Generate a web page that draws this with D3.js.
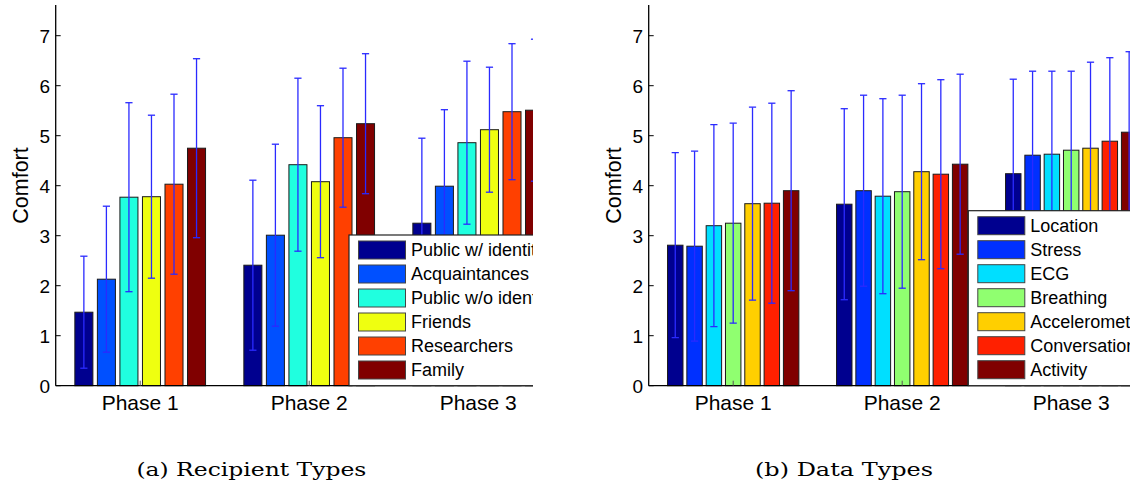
<!DOCTYPE html>
<html><head><meta charset="utf-8">
<script src="https://cdn.jsdelivr.net/npm/d3@7"></script>
<style>
html,body{margin:0;padding:0;background:#fff;}
svg{display:block;}
</style>
</head><body>
<svg id="chart" width="1130" height="486"></svg>
<script>
// ---------------- DATA ----------------
const phases = ["Phase 1", "Phase 2", "Phase 3"];
const yTicks = [0, 1, 2, 3, 4, 5, 6, 7];

const recipientTypes = ["Public w/ identity", "Acquaintances", "Public w/o identity", "Friends", "Researchers", "Family"];
const recipientColors = ["#00008f", "#0050ff", "#20ffdf", "#efff10", "#ff4000", "#800000"];
// mean comfort per recipient type, one array per phase
const recipientMeans = [
  [1.47, 2.13, 3.77, 3.78, 4.03, 4.75],
  [2.41, 3.01, 4.42, 4.08, 4.96, 5.24],
  [3.25, 3.99, 4.86, 5.12, 5.48, 5.51]
];
const recipientErr = [
  [1.12, 1.46, 1.89, 1.63, 1.80, 1.79],
  [1.70, 1.82, 1.73, 1.52, 1.39, 1.40],
  [1.70, 1.53, 1.63, 1.25, 1.36, 1.42]
];

const dataTypes = ["Location", "Stress", "ECG", "Breathing", "Accelerometer", "Conversation", "Activity"];
const dataColors = ["#00008f", "#0030ff", "#00dfff", "#90ff70", "#ffcf00", "#ff2000", "#800000"];
const dataMeans = [
  [2.81, 2.79, 3.20, 3.25, 3.64, 3.65, 3.90],
  [3.63, 3.90, 3.79, 3.88, 4.28, 4.23, 4.43],
  [4.24, 4.61, 4.63, 4.71, 4.75, 4.89, 5.07]
];
const dataErr = [
  [1.85, 1.90, 2.02, 2.00, 1.93, 2.00, 2.00],
  [1.91, 1.91, 1.95, 1.93, 1.76, 1.89, 1.80],
  [1.89, 1.68, 1.66, 1.58, 1.72, 1.67, 1.61]
];

const captions = ["(a) Recipient Types", "(b) Data Types"];

// ---------------- DRAW ----------------
const svg = d3.select("#chart");
const FONT = "'Liberation Sans', Arial, Helvetica, sans-serif";

function panel(opts) {
  const {id, axisX, clipRight, names, colors, means, errs, legend, caption} = opts;
  const y0 = 385.7, yTop = 5.7;
  const g = svg.append("g");
  g.append("clipPath").attr("id", "clip" + id)
    .append("rect").attr("x", axisX - 60).attr("y", 0)
    .attr("width", clipRight - (axisX - 60)).attr("height", 400);
  const pg = g.append("g").attr("clip-path", `url(#clip${id})`);

  const x = d3.scaleLinear().domain([0.5, 3.5]).range([axisX, axisX + 3 * 169]);
  const y = d3.scaleLinear().domain([0, 7.6]).range([y0, yTop]);

  const rows = [];
  phases.forEach((p, pi) => {
    const inner = d3.scaleBand().domain(names)
      .range([x(pi + 1 - 0.4), x(pi + 1 + 0.4)])
      .paddingInner(0.2).paddingOuter(0.1);
    names.forEach((n, si) => {
      rows.push({pi, si, v: means[pi][si], e: errs[pi][si],
        x0: inner(n), w: inner.bandwidth(), cx: inner(n) + inner.bandwidth() / 2});
    });
  });

  // bars
  pg.selectAll("rect.bar").data(rows).join("rect")
    .attr("class", "bar")
    .attr("x", d => d.x0).attr("width", d => d.w)
    .attr("y", d => y(d.v)).attr("height", d => y(0) - y(d.v))
    .attr("fill", d => colors[d.si])
    .attr("stroke", "#1a1a1a").attr("stroke-width", 1);

  // error bars
  const eb = pg.selectAll("g.err").data(rows).join("g").attr("class", "err")
    .attr("stroke", "#2a2aff").attr("stroke-width", 1.3);
  eb.append("line").attr("x1", d => d.cx).attr("x2", d => d.cx)
    .attr("y1", d => y(d.v - d.e)).attr("y2", d => y(d.v + d.e));
  eb.append("line").attr("x1", d => d.cx - 3.6).attr("x2", d => d.cx + 3.6)
    .attr("y1", d => y(d.v + d.e)).attr("y2", d => y(d.v + d.e));
  eb.append("line").attr("x1", d => d.cx - 3.6).attr("x2", d => d.cx + 3.6)
    .attr("y1", d => y(d.v - d.e)).attr("y2", d => y(d.v - d.e));

  // x axis line & inward ticks
  pg.append("line").attr("x1", axisX).attr("x2", x(3.5))
    .attr("y1", y0).attr("y2", y0).attr("stroke", "#000").attr("stroke-width", 1.3);
  pg.selectAll("line.xt").data([1, 2, 3]).join("line").attr("class", "xt")
    .attr("x1", d => x(d)).attr("x2", d => x(d))
    .attr("y1", y0).attr("y2", y0 - 5).attr("stroke", "#555").attr("stroke-width", 1);

  // legend
  const lg = pg.append("g");
  lg.append("rect").attr("x", legend.x).attr("y", legend.y)
    .attr("width", 400).attr("height", y0 - legend.y)
    .attr("fill", "#fff").attr("stroke", "#222").attr("stroke-width", 1.2);
  const ent = lg.selectAll("g.ent").data(names).join("g").attr("class", "ent")
    .attr("transform", (d, i) => `translate(${legend.x + 9.5},${legend.y + 6 + i * 24})`);
  ent.append("rect").attr("width", 47).attr("height", 18)
    .attr("fill", (d, i) => colors[i]).attr("stroke", "#444").attr("stroke-width", 1);
  ent.append("text").attr("x", 52.5).attr("y", 9).attr("dy", "0.36em")
    .attr("font-family", FONT).attr("font-size", 18).attr("fill", "#000")
    .text(d => d);

  // y axis
  g.append("line").attr("x1", axisX).attr("x2", axisX).attr("y1", yTop - 0.7).attr("y2", y0)
    .attr("stroke", "#000").attr("stroke-width", 1.3);
  g.selectAll("line.yt").data(yTicks).join("line").attr("class", "yt")
    .attr("x1", axisX).attr("x2", axisX + 5)
    .attr("y1", d => y(d)).attr("y2", d => y(d)).attr("stroke", "#000").attr("stroke-width", 1);
  g.selectAll("text.ytl").data(yTicks).join("text").attr("class", "ytl")
    .attr("x", axisX - 5.5).attr("y", d => y(d)).attr("dy", "0.36em")
    .attr("text-anchor", "end").attr("font-family", FONT).attr("font-size", 19)
    .text(d => d);

  // x tick labels
  g.selectAll("text.xtl").data(phases).join("text").attr("class", "xtl")
    .attr("x", (d, i) => x(i + 1)).attr("y", 410)
    .attr("text-anchor", "middle").attr("font-family", FONT).attr("font-size", 21)
    .text(d => d);

  // y label
  g.append("text")
    .attr("transform", `translate(${axisX - 27.5},185.5) rotate(-90)`)
    .attr("text-anchor", "middle").attr("font-family", FONT).attr("font-size", 21.5)
    .text("Comfort");

  // caption
  g.append("text").attr("x", caption.cx).attr("y", 476)
    .attr("text-anchor", "middle")
    .attr("font-family", "'DejaVu Serif', 'Liberation Serif', serif")
    .attr("font-size", 18)
    .attr("textLength", caption.w).attr("lengthAdjust", "spacingAndGlyphs")
    .text(caption.text);
}

panel({id: "a", axisX: 55.7, clipRight: 533, names: recipientTypes, colors: recipientColors,
  means: recipientMeans, errs: recipientErr, legend: {x: 349, y: 235},
  caption: {text: captions[0], cx: 251.4, w: 230}});
panel({id: "b", axisX: 648.7, clipRight: 1130, names: dataTypes, colors: dataColors,
  means: dataMeans, errs: dataErr, legend: {x: 968.3, y: 210.7},
  caption: {text: captions[1], cx: 844, w: 178}});
</script>
</body></html>
